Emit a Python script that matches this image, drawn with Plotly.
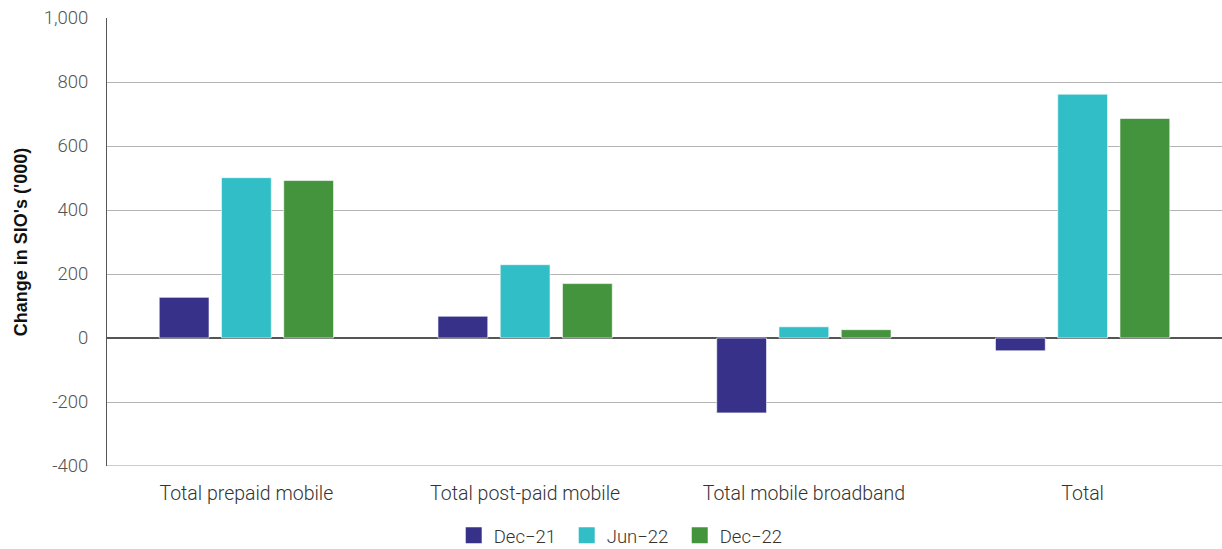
import plotly.graph_objects as go

categories = ["Total prepaid mobile", "Total post-paid mobile", "Total mobile broadband", "Total"]
series_names = ["Dec\u221221", "Jun\u221222", "Dec\u221222"]
dec21 = [127, 68, -234, -40]
jun22 = [501, 229, 35, 762]
dec22 = [492, 170, 26, 686]
colors = ["#37318a", "#31bec6", "#43943c"]
y_ticks = [-400, -200, 0, 200, 400, 600, 800, 1000]
y_tick_labels = ["-400", "-200", "0", "200", "400", "600", "800", "1,000"]

fig = go.Figure()
for name, vals, col in zip(series_names, [dec21, jun22, dec22], colors):
    fig.add_trace(go.Bar(
        x=categories, y=vals, name=name, showlegend=False,
        marker=dict(color=col, line=dict(color="rgba(255,255,255,0.6)", width=1)),
    ))
# square legend swatches
for name, col in zip(series_names, colors):
    fig.add_trace(go.Scatter(
        x=[None], y=[None], mode="markers", name=name,
        marker=dict(symbol="square", size=16, color=col),
    ))

fig.update_layout(
    width=1222, height=549,
    margin=dict(l=107, r=0, t=18, b=83),
    plot_bgcolor="white", paper_bgcolor="white",
    barmode="group", bargap=0.33, bargroupgap=0.2,
    font=dict(family="Roboto", size=18, color="#333333", weight=300),
    showlegend=True,
    legend=dict(
        orientation="h", xref="container", x=0.51, xanchor="center",
        yref="container", y=0.024, yanchor="middle",
        font=dict(size=18.5, color="#333333", weight=300),
        itemwidth=30, traceorder="normal", itemsizing="trace",
        entrywidth=68, entrywidthmode="pixels",
    ),
)
fig.update_xaxes(
    showgrid=False, ticks="", tickfont=dict(size=19.5, color="#333333", weight=300),
    showline=False, ticklabelstandoff=13,
)
fig.update_yaxes(
    range=[-400, 1000], tickvals=y_ticks, ticktext=y_tick_labels,
    showgrid=True, gridcolor="#b3b3b3", gridwidth=1,
    zeroline=True, zerolinecolor="#555555", zerolinewidth=2,
    showline=True, linecolor="#555555", linewidth=1,
    tickfont=dict(size=18.5, color="#555555", weight=300), ticks="", ticklabelstandoff=14,
    title=dict(text="Change in SIO's ('000)",
               font=dict(family="Liberation Sans", size=18, color="#111111", weight=700),
               standoff=11),
)
# bottom boundary line at -400
fig.add_shape(type="line", xref="paper", yref="y", x0=0, x1=1, y0=-400, y1=-400,
              line=dict(color="#999999", width=1), layer="below")

fig.write_html("out.html")
